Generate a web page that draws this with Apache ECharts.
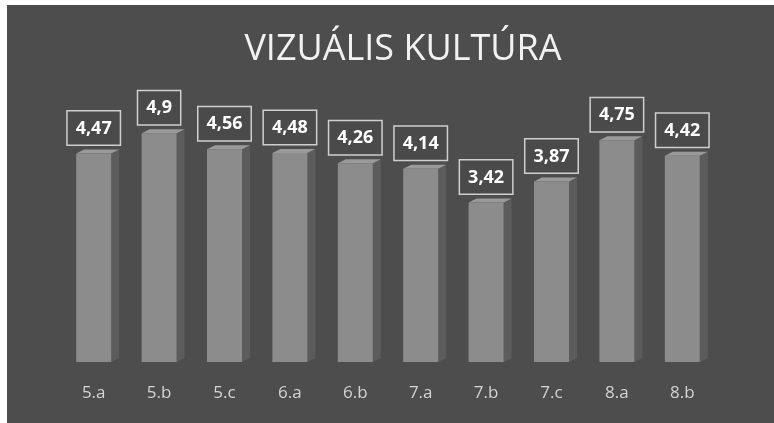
<!DOCTYPE html>
<html>
<head>
<meta charset="utf-8">
<script src="https://cdn.jsdelivr.net/npm/echarts@6/dist/echarts.min.js"></script>
<style>
  html, body { margin: 0; padding: 0; background: #ffffff; }
  #chart { width: 774px; height: 423px; }
</style>
</head>
<body>
<div id="chart"></div>
<script>
// Class averages for visual culture
const titleText = 'VIZUÁLIS KULTÚRA';
const classes = ['5.a', '5.b', '5.c', '6.a', '6.b', '7.a', '7.b', '7.c', '8.a', '8.b'];
const averages = [4.47, 4.9, 4.56, 4.48, 4.26, 4.14, 3.42, 3.87, 4.75, 4.42];

const BAR_W = 35;   // front face width
const DEPTH_X = 8;  // side face width
const DEPTH_Y = 4;  // upward slant of the depth

const fmt = v => String(v).replace('.', ',');

const chart = echarts.init(document.getElementById('chart'), null, { renderer: 'canvas' });

chart.setOption({
  backgroundColor: '#ffffff',
  animation: false,
  graphic: [
    { type: 'rect', z: -10, shape: { x: 7, y: 5, width: 767, height: 418 }, style: { fill: '#4d4d4d' } }
  ],
  title: {
    text: titleText,
    left: 398, top: 27,
    textAlign: 'center',
    textStyle: { color: '#f2f2f2', fontFamily: 'Open Sans', fontWeight: 'normal', fontSize: 36 }
  },
  grid: { left: 61, right: 59, top: 82, bottom: 61 },
  xAxis: {
    type: 'category',
    data: classes,
    axisLine: { show: false },
    axisTick: { show: false },
    axisLabel: { color: '#d4d4d4', fontFamily: 'Open Sans', fontSize: 17, margin: 23, offset: 0 }
  },
  yAxis: {
    type: 'value', min: 0, max: 6,
    show: false,
    splitLine: { show: false }
  },
  series: [
    {
      // depth faces drawn behind the front faces
      type: 'custom',
      z: 1,
      data: averages.map((v, i) => [i, v]),
      renderItem: (params, api) => {
        const top = api.coord([api.value(0), api.value(1)]);
        const base = api.coord([api.value(0), 0]);
        const r = top[0] + BAR_W / 2;
        const l = top[0] - BAR_W / 2;
        return {
          type: 'group',
          children: [
            { type: 'polygon', shape: { points: [[r, top[1]], [r + DEPTH_X, top[1] - DEPTH_Y], [r + DEPTH_X, base[1] - DEPTH_Y], [r, base[1]]] },
              style: { fill: '#5c5c5c' } },
            { type: 'polygon', shape: { points: [[l, top[1]], [l + DEPTH_X, top[1] - DEPTH_Y], [r + DEPTH_X, top[1] - DEPTH_Y], [r, top[1]]] },
              style: { fill: '#9a9a9a' } }
          ]
        };
      }
    },
    {
      type: 'bar',
      z: 2,
      data: averages,
      barWidth: BAR_W,
      itemStyle: { color: '#8c8c8c' },
      label: {
        show: true,
        position: 'top',
        distance: 9,
        formatter: p => fmt(p.value),
        color: '#ffffff',
        fontFamily: 'Open Sans',
        fontWeight: 'bold',
        fontSize: 18,
        backgroundColor: '#4a4a4a',
        borderColor: '#cfcfcf',
        borderWidth: 1.5,
        padding: [8, 8, 7, 8]
      }
    }
  ]
});
</script>
</body>
</html>
